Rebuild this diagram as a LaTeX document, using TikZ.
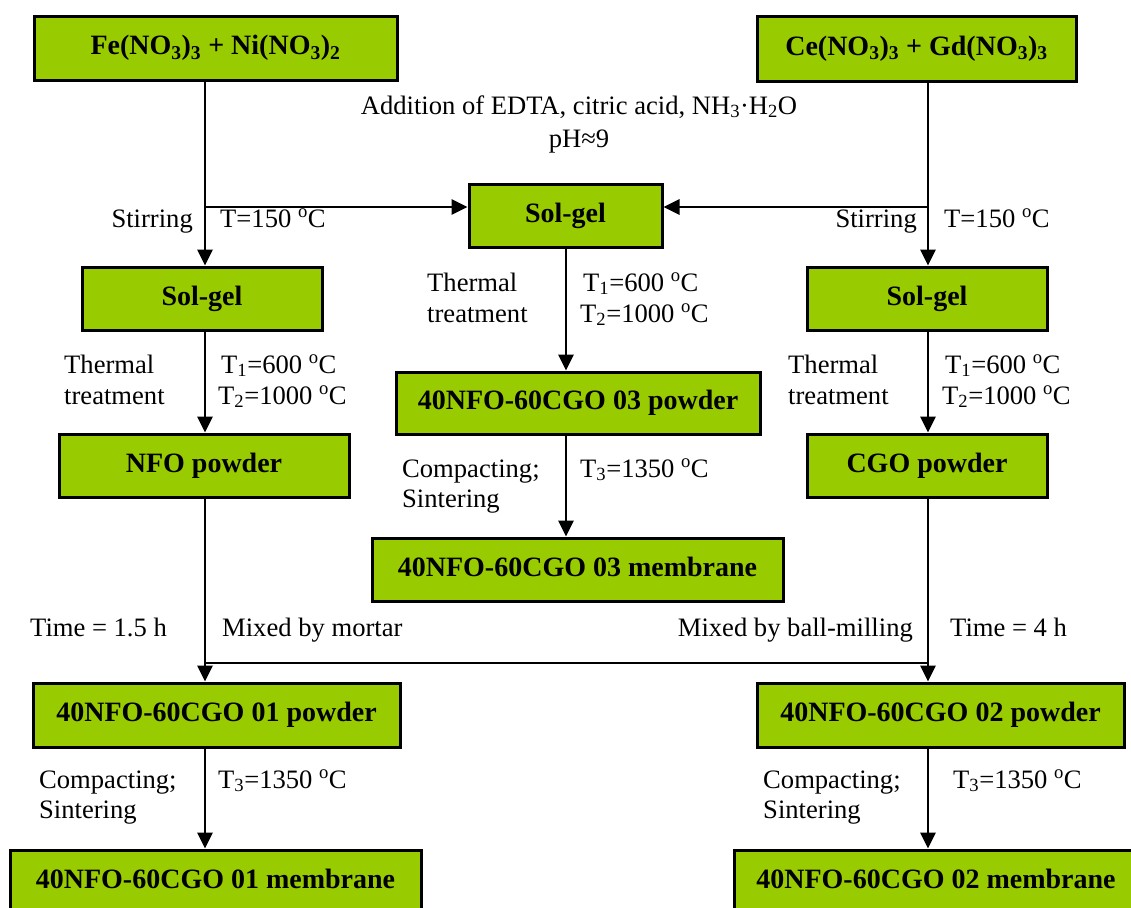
\documentclass[tikz,border=0pt]{standalone}
\usepackage{fontspec}
\setmainfont{Liberation Serif}
\usetikzlibrary{arrows.meta}
\definecolor{boxgreen}{HTML}{99CC00}
\newcommand\fsz{\fontsize{28}{31}\selectfont}
\newcommand\lsz{\fontsize{26.6}{30}\selectfont}
\newcommand\degC{\textsuperscript{o}C}
\tikzset{
  box/.style={draw=black, line width=3pt, fill=boxgreen, inner sep=0pt,
    font=\bfseries\fsz, align=center, text height=19pt, text depth=6pt},
  arr/.style={line width=2.8pt, -{Triangle[length=16pt,width=15pt]}},
  conn/.style={line width=2.8pt},
  lbl/.style={inner sep=0pt, font=\lsz},
  lw/.style={lbl, anchor=base west},
  le/.style={lbl, anchor=base east},
  lc/.style={lbl, anchor=base},
}
\begin{document}
\begin{tikzpicture}[x=1pt,y=-1pt]
\useasboundingbox[fill=white] (0,0) rectangle (1131,907);
% boxes
\node[box, minimum width=363pt, minimum height=63pt] (fe)  at (215.5,48.5) {Fe(NO\textsubscript{3})\textsubscript{3} + Ni(NO\textsubscript{3})\textsubscript{2}};
\node[box, minimum width=319pt, minimum height=64pt] (ce)  at (916.5,49) {Ce(NO\textsubscript{3})\textsubscript{3} + Gd(NO\textsubscript{3})\textsubscript{3}};
\node[box, minimum width=193pt, minimum height=63pt] (sgc) at (565.5,215.5) {Sol-gel};
\node[box, minimum width=240pt, minimum height=63pt] (sgl) at (202,298.5) {Sol-gel};
\node[box, minimum width=240pt, minimum height=63pt] (sgr) at (927,298.5) {Sol-gel};
\node[box, minimum width=290pt, minimum height=63pt] (nfo) at (204,465.5) {NFO powder};
\node[box, minimum width=240pt, minimum height=63pt] (cgo) at (927,465.5) {CGO powder};
\node[box, minimum width=364pt, minimum height=62pt] (p03) at (578,403) {40NFO-60CGO 03 powder};
\node[box, minimum width=411pt, minimum height=63pt] (m03) at (577.5,569.5) {40NFO-60CGO 03 membrane};
\node[box, minimum width=367pt, minimum height=64pt] (p01) at (216.5,715) {40NFO-60CGO 01 powder};
\node[box, minimum width=367pt, minimum height=64pt] (p02) at (940.5,715) {40NFO-60CGO 02 powder};
\node[box, minimum width=411pt, minimum height=63pt] (m01) at (215.5,881.5) {40NFO-60CGO 01 membrane};
\node[box, minimum width=404pt, minimum height=63pt] (m02) at (936,881.5) {40NFO-60CGO 02 membrane};
% junctions
\coordinate (jl) at (205,207);
\coordinate (jr) at (928,207);
\coordinate (ml) at (205,663);
\coordinate (mr) at (928,663);
\coordinate (xc) at (566,0);
% connectors
\draw[arr] (fe.south -| jl) -- (sgl.north -| jl);
\draw[arr] (jl) -- (sgc.west |- jl);
\draw[arr] (ce.south -| jr) -- (sgr.north -| jr);
\draw[arr] (jr) -- (sgc.east |- jr);
\draw[arr] (sgl.south -| jl) -- (nfo.north -| jl);
\draw[arr] (sgr.south -| jr) -- (cgo.north -| jr);
\draw[arr] (sgc.south -| xc) -- (p03.north -| xc);
\draw[arr] (p03.south -| xc) -- (m03.north -| xc);
\draw[conn] (nfo.south -| ml) -- (ml);
\draw[conn] (cgo.south -| mr) -- (mr);
\draw[conn] (ml) -- (mr);
\draw[arr] (ml) -- (p01.north -| ml);
\draw[arr] (mr) -- (p02.north -| mr);
\draw[arr] (p01.south -| ml) -- (m01.north -| ml);
\draw[arr] (p02.south -| mr) -- (m02.north -| mr);
% labels
\node[lc] (addA) at (579,114) {Addition of EDTA, citric acid, NH\textsubscript{3}·H\textsubscript{2}O};
\node[lc] (addB) at (579,147) {pH≈9};
\node[le] (stirL) at (193,227) {Stirring};
\node[lw] (tL) at (220,227) {T=150 \degC};
\node[le] (stirR) at (917,227) {Stirring};
\node[lw] (tR) at (944,227) {T=150 \degC};
\node[lw] (thL1) at (64,373) {Thermal};
\node[lw] (thL2) at (64,404) {treatment};
\node[lw] (t1L) at (221,373) {T\textsubscript{1}=600 \degC};
\node[lw] (t2L) at (218,404) {T\textsubscript{2}=1000 \degC};
\node[lw] (thC1) at (427,291) {Thermal};
\node[lw] (thC2) at (427,322) {treatment};
\node[lw] (t1C) at (583,291) {T\textsubscript{1}=600 \degC};
\node[lw] (t2C) at (580,322) {T\textsubscript{2}=1000 \degC};
\node[lw] (thR1) at (788,373) {Thermal};
\node[lw] (thR2) at (788,404) {treatment};
\node[lw] (t1R) at (945,373) {T\textsubscript{1}=600 \degC};
\node[lw] (t2R) at (942,404) {T\textsubscript{2}=1000 \degC};
\node[lw] (cC1) at (402,477) {Compacting;};
\node[lw] (cC2) at (402,507) {Sintering};
\node[lw] (t3C) at (580,477) {T\textsubscript{3}=1350 \degC};
\node[lw] (time1) at (30,636) {Time = 1.5 h};
\node[lw] (mortar) at (222,636) {Mixed by mortar};
\node[le] (ball) at (913,636) {Mixed by ball-milling};
\node[lw] (time2) at (950,636) {Time = 4 h};
\node[lw] (cL1) at (39,788) {Compacting;};
\node[lw] (cL2) at (39,818) {Sintering};
\node[lw] (t3L) at (218,788) {T\textsubscript{3}=1350 \degC};
\node[lw] (cR1) at (763,788) {Compacting;};
\node[lw] (cR2) at (763,818) {Sintering};
\node[lw] (t3R) at (953,788) {T\textsubscript{3}=1350 \degC};
\end{tikzpicture}
\end{document}
